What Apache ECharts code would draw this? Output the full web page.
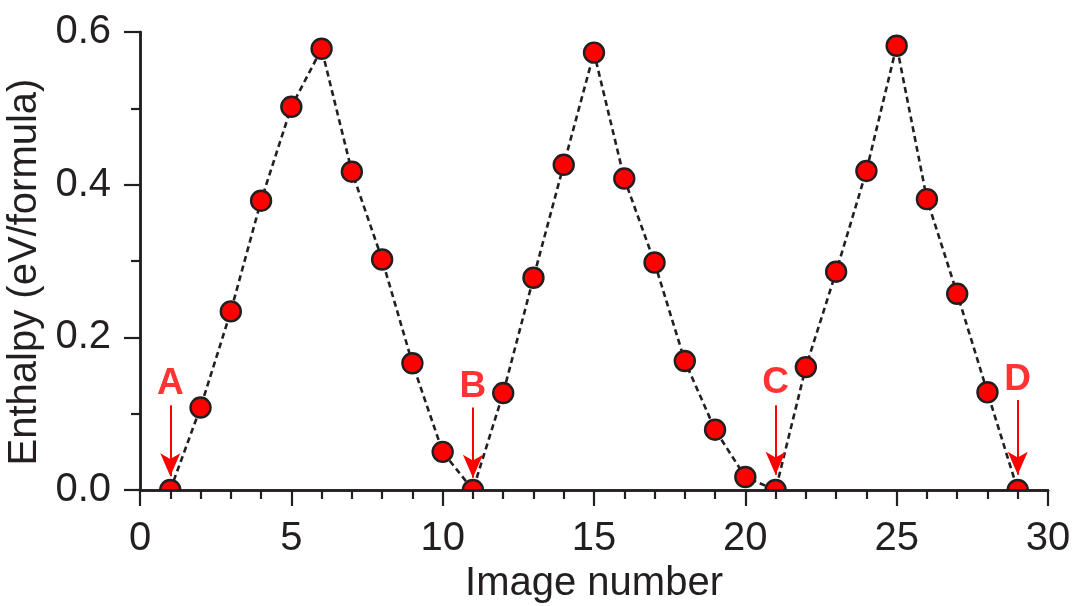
<!DOCTYPE html>
<html>
<head>
<meta charset="utf-8">
<title>Enthalpy along the path</title>
<script src="https://cdn.jsdelivr.net/npm/echarts@6/dist/echarts.min.js"></script>
<style>
  html, body { margin: 0; padding: 0; background: #ffffff; }
  #chart { width: 1075px; height: 606px; }
</style>
</head>
<body>
<div id="chart"></div>
<script>
// Image index along the path and the enthalpy of each image (eV/formula)
const imageNumbers = [1, 2, 3, 4, 5, 6, 7, 8, 9, 10, 11, 12, 13, 14, 15, 16, 17, 18, 19, 20, 21, 22, 23, 24, 25, 26, 27, 28, 29];
const enthalpy = [0.000, 0.108, 0.234, 0.379, 0.502, 0.578, 0.417, 0.302, 0.166, 0.050,
                  0.000, 0.127, 0.278, 0.426, 0.573, 0.408, 0.298, 0.169, 0.079, 0.017,
                  0.000, 0.161, 0.286, 0.418, 0.582, 0.381, 0.257, 0.128, 0.000];

// Marked end-point structures: letter, image index, letter height, arrow start and tip
const stateLetters = ['A', 'B', 'C', 'D'];
const stateImages = [1, 11, 21, 29];
const letterLevels = [0.139, 0.135, 0.140, 0.144];
const arrowStarts = [0.111, 0.108, 0.111, 0.118];
const arrowTips = [0.018, 0.016, 0.020, 0.020];

// Axis ranges and ticks
const xRange = [0, 30];
const xStep = 5;
const yRange = [0, 0.6];
const yStep = 0.2;

const ink = '#231f20';
const red = '#ff0000';
const font = 'Liberation Sans, Arial, Helvetica, sans-serif';

const chart = echarts.init(document.getElementById('chart'), null, { renderer: 'canvas' });

const points = imageNumbers.map((n, i) => [n, enthalpy[i]]);

const arrowLines = stateImages.map((n, i) => [
  { coord: [n, arrowStarts[i]] },
  { coord: [n, arrowTips[i]] }
]);

const letterPoints = stateImages.map((n, i) => ({ value: [n, letterLevels[i]], name: stateLetters[i] }));

const frameAxis = {
  z: 10,
  axisLine: { show: true, lineStyle: { color: ink, width: 2.5 } },
  axisLabel: { show: false },
  splitLine: { show: false },
  axisTick: { show: true, inside: true, length: 3, lineStyle: { color: ink, width: 1.5 } }
};

chart.setOption({
  animation: false,
  backgroundColor: '#ffffff',
  grid: { left: 140, right: 27, top: 32, bottom: 116, containLabel: false, outerBoundsMode: 'none' },
  xAxis: [
    {
      type: 'value',
      z: 10,
      min: xRange[0],
      max: xRange[1],
      interval: xStep,
      position: 'bottom',
      name: 'Image number',
      nameLocation: 'middle',
      nameGap: 70,
      nameTextStyle: { color: ink, fontSize: 40, fontFamily: font },
      axisLine: { show: true, onZero: false, lineStyle: { color: ink, width: 2.5 } },
      axisTick: { show: true, inside: false, length: 16, lineStyle: { color: ink, width: 2.2 } },
      minorTick: { show: true, splitNumber: 5, length: 9, lineStyle: { color: ink, width: 2.2 } },
      axisLabel: { color: ink, fontSize: 40, fontFamily: font, margin: 29 },
      splitLine: { show: false }
    },
    Object.assign({
      type: 'value',
      min: xRange[0],
      max: xRange[1],
      interval: 1,
      position: 'top'
    }, frameAxis)
  ],
  yAxis: [
    {
      type: 'value',
      z: 10,
      min: yRange[0],
      max: yRange[1],
      interval: yStep,
      position: 'left',
      name: 'Enthalpy (eV/formula)',
      nameLocation: 'middle',
      nameGap: 90,
      nameTextStyle: { color: ink, fontSize: 40, fontFamily: font, padding: [0, 22, 0, 0] },
      axisLine: { show: true, onZero: false, lineStyle: { color: ink, width: 2.5 } },
      axisTick: { show: true, inside: false, length: 16, lineStyle: { color: ink, width: 2.2 } },
      minorTick: { show: true, splitNumber: 2, length: 9, lineStyle: { color: ink, width: 2.2 } },
      axisLabel: {
        color: ink, fontSize: 40, fontFamily: font, margin: 29,
        formatter: v => v.toFixed(1)
      },
      splitLine: { show: false }
    },
    Object.assign({
      type: 'value',
      min: yRange[0],
      max: yRange[1],
      interval: 0.1,
      position: 'right'
    }, frameAxis)
  ],
  series: [
    {
      name: 'Enthalpy',
      type: 'line',
      data: points,
      clip: false,
      symbol: 'circle',
      symbolSize: 20,
      z: 3,
      lineStyle: { color: ink, width: 2.6, type: [6, 4] },
      itemStyle: { color: red, borderColor: ink, borderWidth: 2.4 },
      markLine: {
        silent: true,
        symbol: ['none', 'arrow'],
        symbolSize: [15, 23],
        precision: 3,
        label: { show: false },
        lineStyle: { color: red, width: 2, type: 'solid' },
        data: arrowLines
      }
    },
    {
      name: 'States',
      type: 'scatter',
      data: letterPoints,
      symbolSize: 0,
      silent: true,
      z: 4,
      label: {
        show: true,
        position: 'inside',
        formatter: p => p.name,
        color: red,
        textBorderWidth: 0,
        fontSize: 37,
        fontWeight: 'bold',
        fontFamily: font
      }
    }
  ]
});

// Markers resting on the baseline are cut off at the x axis, like the plot frame clips them:
// a white band just under the axis hides their lower halves (the axis itself is drawn on top).
const origin = chart.convertToPixel({ xAxisIndex: 0, yAxisIndex: 0 }, [xRange[0], yRange[0]]);
const far = chart.convertToPixel({ xAxisIndex: 0, yAxisIndex: 0 }, [xRange[1], yRange[0]]);
chart.setOption({
  graphic: [{
    type: 'rect',
    z: 5,
    silent: true,
    shape: { x: origin[0] + 2, y: origin[1] + 1, width: far[0] - origin[0] - 4, height: 12 },
    style: { fill: '#ffffff' }
  }]
});
</script>
</body>
</html>
